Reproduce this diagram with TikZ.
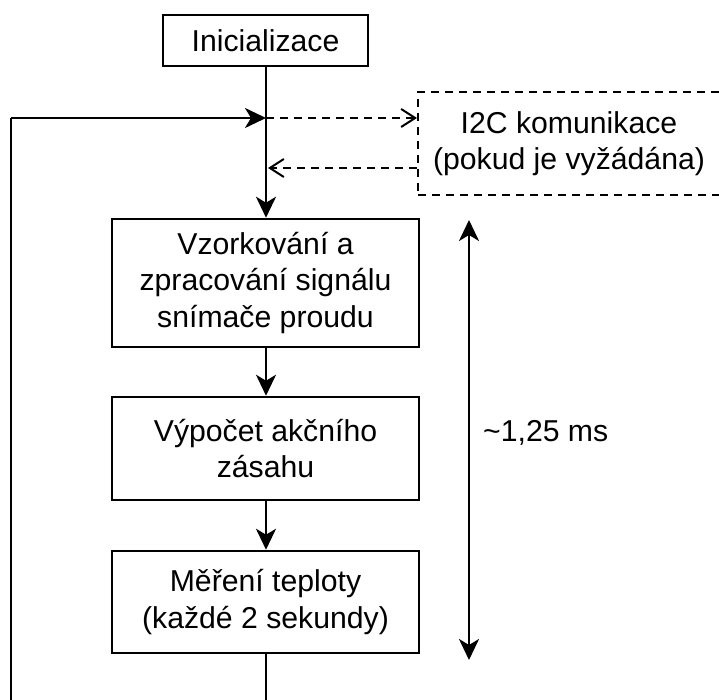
\documentclass[tikz,border=0pt]{standalone}
\usepackage{fontspec}
\setmainfont{Liberation Sans}
\usetikzlibrary{arrows.meta}
\begin{document}
\begin{tikzpicture}[x=1pt,y=-1pt,
  every node/.style={font=\fontsize{30.2}{36.5}\selectfont, align=center},
  box/.style={draw, line width=2.5pt, minimum width=307pt, inner sep=0pt},
  dbox/.style={draw, dashed, line width=2pt, dash pattern=on 8pt off 6pt, inner sep=0pt},
  flow/.style={line width=2.5pt, -{Stealth[length=21pt,width=20pt,inset=6pt]}},
  dflow/.style={line width=2pt, dash pattern=on 8pt off 6pt, -{Straight Barb[length=14pt,width=18pt,line width=2pt]}},
  dual/.style={line width=2.5pt, {Stealth[length=21pt,width=20pt,inset=6pt]}-{Stealth[length=21pt,width=20pt,inset=6pt]}}
]
\useasboundingbox (0,0) rectangle (719,700);
\node[box, minimum width=205pt, minimum height=51pt] (init) at (265.5,40.5) {Inicializace};
\node[dbox, minimum width=302pt, minimum height=103pt] (i2c) at (569,143.5) {I2C komunikace\\(pokud je vyžádána)};
\node[box, minimum height=128pt] (samp) at (265.5,283) {Vzorkování a\\zpracování signálu\\snímače proudu};
\node[box, minimum height=103pt] (calc) at (265.5,448.5) {Výpočet akčního\\zásahu};
\node[box, minimum height=102pt] (temp) at (265.5,602) {Měření teploty\\(každé 2 sekundy)};
\coordinate (j1) at (266,118);
\coordinate (j2) at (266,168);
\coordinate (bl) at (266,715);
\coordinate (bll) at (11,715);
\coordinate (tl) at (11,118);
\coordinate (t1) at (469,220);
\coordinate (t2) at (469,660);
\draw[flow] (init.south -| j1) -- (samp.north -| j1);
\draw[line width=2.5pt] (temp.south -| bl) -- (bl) -- (bll) -- (tl);
\draw[flow] (tl) -- (j1);
\draw[dflow] (j1) -- (j1 -| i2c.west);
\draw[dflow] (j2 -| i2c.west) -- ([xshift=2pt]j2);
\draw[flow] (samp.south -| j1) -- (calc.north -| j1);
\draw[flow] (calc.south -| j1) -- (temp.north -| j1);
\draw[dual] (t1) -- (t2);
\node[anchor=west, inner sep=0pt] (lbl) at (483,433) {\textasciitilde 1,25 ms};
\end{tikzpicture}
\end{document}
